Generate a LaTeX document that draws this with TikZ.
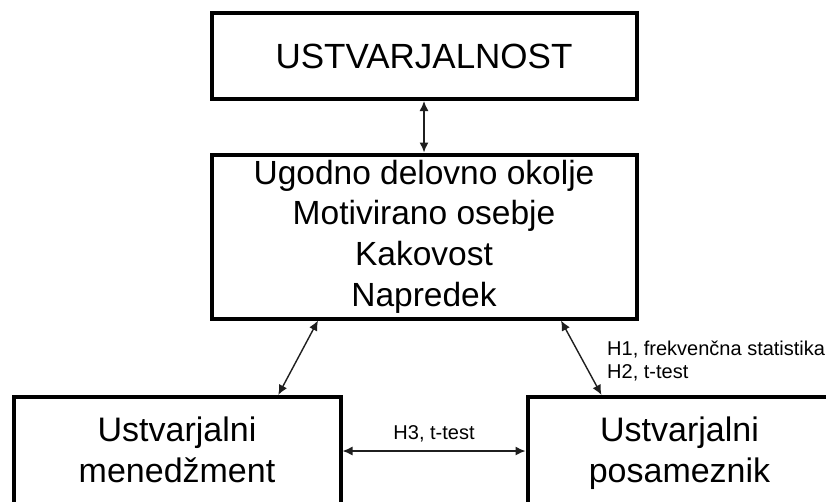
\documentclass[tikz,border=0pt]{standalone}
\usepackage{fontspec}
\setmainfont{Liberation Sans}
\usetikzlibrary{arrows.meta}
\begin{document}
\begin{tikzpicture}[x=1pt,y=-1pt,
  box/.style={draw=black, line width=4pt, rectangle, inner sep=0pt, fill=white},
  big/.style={font=\fontsize{34}{40.7}\selectfont, align=center, inner sep=0pt, text=black},
  small/.style={font=\fontsize{20}{23}\selectfont, inner sep=0pt, text=black},
  conn/.style={draw=black!88, line width=1.4pt,
    {Latex[length=10pt,width=9pt]}-{Latex[length=10pt,width=9pt]}}]
\useasboundingbox (0,0) rectangle (826,501);
\clip (0,0) rectangle (826,501);
\fill[white] (0,0) rectangle (826,501);

\node[box, big, font=\fontsize{35}{40.7}\selectfont, minimum width=425pt, minimum height=86pt] (top) at (424,56) {USTVARJALNOST};
\node[box, big, font=\fontsize{33.5}{40.7}\selectfont, minimum width=425pt, minimum height=164pt] (mid) at (424,236.5)
  {Ugodno delovno okolje\\Motivirano osebje\\Kakovost\\Napredek};
\node[box, minimum width=326.5pt, minimum height=108pt] (lbox) at (177.25,451) {};
\node[box, minimum width=304pt, minimum height=108pt] (rbox) at (679.5,451) {};

\node[big, anchor=base] (l1) at (177,441) {Ustvarjalni};
\node[big, anchor=base] (l2) at (177,482) {menedžment};
\node[big, anchor=base] (r1) at (679.5,441) {Ustvarjalni};
\node[big, anchor=base] (r2) at (679.5,482) {posameznik};

\node[small, anchor=base west] (h1) at (607,355) {H1, frekvenčna statistika};
\node[small, anchor=base west] (h2) at (607,378) {H2, t-test};

\draw[conn] (top.south) -- (mid.north);
\draw[conn] ([xshift=-106pt]mid.south) -- ([xshift=101pt]lbox.north);
\draw[conn] ([xshift=137pt]mid.south) -- ([xshift=-78pt]rbox.north);
\draw[conn] (lbox.east) -- (rbox.west)
  node[midway, small, anchor=base, yshift=12pt] (h3) {H3, t-test};
\end{tikzpicture}
\end{document}
